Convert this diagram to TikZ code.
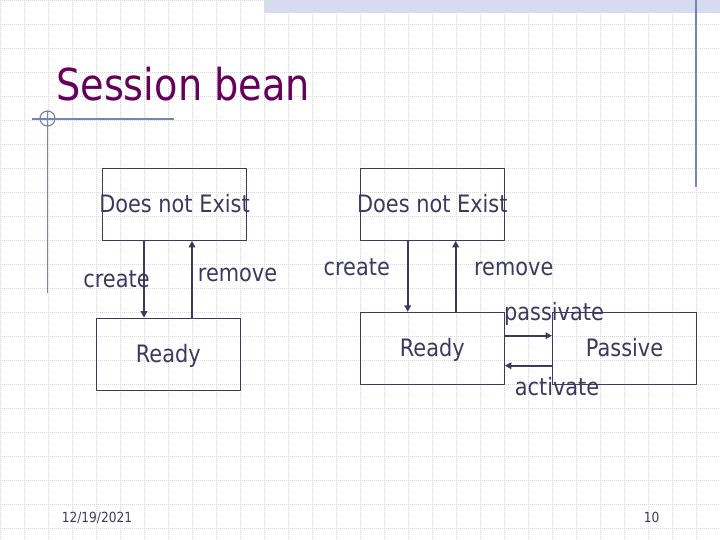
\documentclass[tikz,border=0pt]{standalone}
\usepackage{fontspec}
\setmainfont[FakeStretch=0.87]{DejaVu Sans}
\usetikzlibrary{arrows.meta}

\begin{document}
\begin{tikzpicture}[x=1pt,y=-1pt,
  gridline/.style={draw=gridgray,line width=0.5pt,dash pattern=on 1pt off 1pt},
  deco/.style={draw=decoblue,line width=1.2pt},
  statebox/.style={draw=ink,line width=1pt,minimum width=144pt,minimum height=72pt,
    inner xsep=-5pt,inner ysep=0pt,text height=17pt,text depth=0pt,text=ink,
    font=\fontsize{24}{28}\selectfont},
  lbl/.style={anchor=base,text=ink,inner sep=0pt,font=\fontsize{24}{28}\selectfont},
  trans/.style={draw=ink,line width=2pt,-{Triangle[length=6.5pt,width=6.5pt]}},
  foot/.style={anchor=base,text=ink,inner sep=0pt,font=\fontsize{14}{16}\selectfont}]
% Define slide colours
\definecolor{gridgray}{RGB}{214,214,214}
\definecolor{bandblue}{RGB}{212,220,238}
\definecolor{decoblue}{RGB}{118,132,178}
\definecolor{ink}{RGB}{58,58,96}
\definecolor{titlepurple}{RGB}{102,0,92}

\useasboundingbox (0,0) rectangle (720,540);

% Background grid
\foreach \gx in {0,24,...,720}
  \draw[gridline] (\gx,0) -- (\gx,540);
\foreach \gy in {0,24,...,540}
  \draw[gridline] (0,\gy) -- (720,\gy);

% Slide decoration
\fill[bandblue] (264,0) rectangle (720,12.7);
\draw[deco] (696,0) -- (696,187);
\draw[deco] (32,119) -- (174,119);
\draw[deco] (47.5,111) -- (47.5,293);
\draw[deco] (47.5,118.5) circle (7.5);

% Title
\node[anchor=base west,inner sep=0pt,text=titlepurple,font=\fontsize{44}{50}\selectfont] (title) at (56,101) {Session bean};

% Stateless session bean
\node[statebox] (dne1) at (174.5,204.3) {Does not Exist};
\node[statebox] (ready1) at (168.3,354.2) {Ready};

\draw[trans] ([xshift=-30.5pt]dne1.south) -- ([xshift=-30.5pt]dne1.south |- ready1.north);
\draw[trans] ([xshift=23.7pt]ready1.north) -- ([xshift=23.7pt]ready1.north |- dne1.south);

\node[lbl] (create1) at (116.5,287.5) {create};
\node[lbl] (remove1) at (237.5,281.7) {remove};

% Stateful session bean
\node[statebox] (dne2) at (432.3,204.3) {Does not Exist};
\node[statebox] (ready2) at (432.3,348.3) {Ready};
\node[statebox] (passive) at (624.5,348.3) {Passive};

\draw[trans] ([xshift=-24.6pt]dne2.south) -- ([xshift=-24.6pt]dne2.south |- ready2.north);
\draw[trans] ([xshift=23.4pt]ready2.north) -- ([xshift=23.4pt]ready2.north |- dne2.south);
\draw[trans] ([yshift=12.6pt]ready2.east) -- ([yshift=12.6pt]ready2.east -| passive.west);
\draw[trans] ([yshift=-17.4pt]passive.west) -- ([yshift=-17.4pt]passive.west -| ready2.east);

\node[lbl] (create2) at (356.7,275) {create};
\node[lbl] (remove2) at (513.7,275) {remove};
\node[lbl] (passivate) at (554,320) {passivate};
\node[lbl] (activate) at (557,395) {activate};

% Footer
\node[foot] (date) at (97,522) {12/19/2021};
\node[foot] (page) at (651.7,522) {10};
\end{tikzpicture}
\end{document}
